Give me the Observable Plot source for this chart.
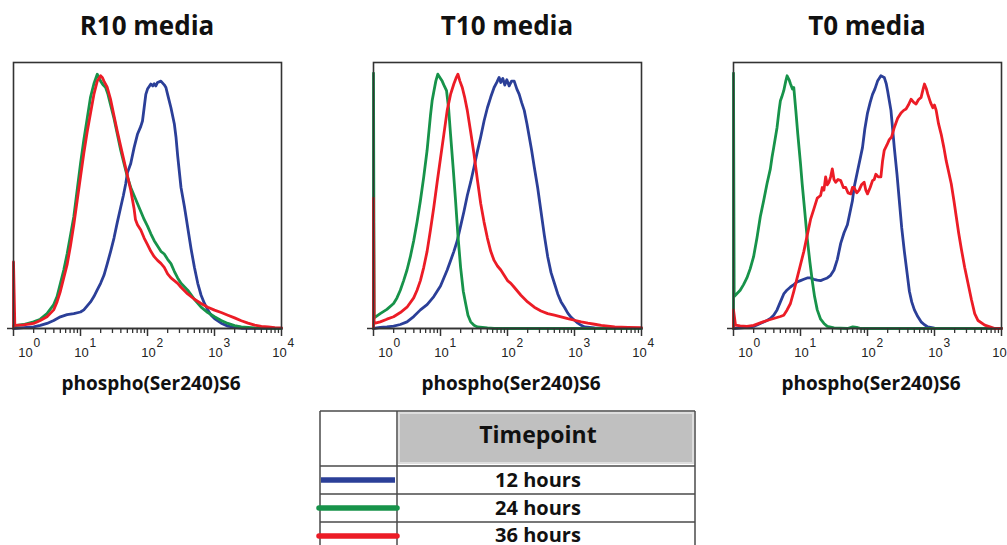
<!DOCTYPE html>
<html>
<head>
<meta charset="utf-8">
<script src="https://cdn.jsdelivr.net/npm/d3@7"></script>
<script src="https://cdn.jsdelivr.net/npm/@observablehq/plot@0.6"></script>
<style>
  html, body { margin: 0; padding: 0; width: 1007px; height: 545px; overflow: hidden; background: #fff; }
  #root { position: relative; width: 1007px; height: 545px; overflow: hidden; }
  .panel { position: absolute; top: 50px; width: 292px; height: 310px; }
  .panel svg { max-width: none !important; }
  #overlay { position: absolute; left: 0; top: 0; }
</style>
</head>
<body>
<div id="root"></div>
<script>
// Flow cytometry histograms of phospho(Ser240)S6, one per culture medium.
// Each curve: [log10 fluorescence, normalized cell count (fraction of panel height)].

const media = ["R10 media", "T10 media", "T0 media"];
const timepoints = ["12 hours", "24 hours", "36 hours"];
const colors = ["#2b3f98", "#17934a", "#ec1c26"];
const axisTitle = "phospho(Ser240)S6";
const majorExps = [0, 1, 2, 3, 4];

// R10 media
const r10_12h = [[0,0],[0.15,0.003],[0.3,0.006],[0.4,0.012],[0.5,0.019],[0.6,0.03],[0.7,0.044],[0.8,0.052],[0.9,0.056],[1.0,0.062],[1.05,0.07],[1.1,0.085],[1.15,0.1],[1.2,0.12],[1.25,0.145],[1.3,0.17],[1.35,0.2],[1.4,0.244],[1.45,0.29],[1.5,0.34],[1.55,0.4],[1.6,0.456],[1.64,0.5],[1.675,0.544],[1.7,0.585],[1.75,0.62],[1.8,0.68],[1.85,0.73],[1.9,0.76],[1.925,0.78],[1.95,0.83],[1.975,0.88],[2.0,0.9],[2.05,0.919],[2.08,0.912],[2.1,0.92],[2.125,0.912],[2.15,0.925],[2.2,0.93],[2.25,0.916],[2.275,0.906],[2.3,0.88],[2.35,0.83],[2.4,0.77],[2.425,0.72],[2.45,0.65],[2.5,0.53],[2.55,0.46],[2.575,0.42],[2.6,0.38],[2.65,0.3],[2.7,0.23],[2.75,0.17],[2.8,0.125],[2.85,0.094],[2.9,0.07],[2.95,0.05],[3.0,0.0375],[3.1,0.02],[3.2,0.009],[3.3,0.004],[3.4,0.001],[4.0,0]];
const r10_24h = [[0,0.01],[0.15,0.015],[0.3,0.025],[0.4,0.035],[0.5,0.056],[0.6,0.09],[0.65,0.12],[0.7,0.17],[0.75,0.22],[0.8,0.28],[0.85,0.35],[0.9,0.42],[0.95,0.52],[1.0,0.62],[1.05,0.71],[1.1,0.79],[1.15,0.87],[1.2,0.92],[1.25,0.956],[1.28,0.94],[1.3,0.93],[1.34,0.915],[1.375,0.906],[1.41,0.88],[1.45,0.84],[1.5,0.79],[1.55,0.73],[1.6,0.67],[1.65,0.62],[1.7,0.57],[1.75,0.53],[1.8,0.5],[1.85,0.47],[1.9,0.44],[1.95,0.41],[2.0,0.385],[2.05,0.356],[2.1,0.33],[2.15,0.31],[2.2,0.29],[2.25,0.28],[2.3,0.26],[2.35,0.244],[2.4,0.215],[2.45,0.19],[2.5,0.17],[2.6,0.144],[2.7,0.11],[2.8,0.08],[2.9,0.06],[3.0,0.044],[3.1,0.03],[3.2,0.019],[3.3,0.011],[3.4,0.006],[3.6,0.002],[4.0,0]];
const r10_36h = [[0,0],[0,0.25],[0.02,0.012],[0.15,0.014],[0.3,0.019],[0.4,0.03],[0.5,0.044],[0.6,0.07],[0.65,0.1],[0.7,0.14],[0.75,0.19],[0.8,0.24],[0.85,0.31],[0.9,0.39],[0.95,0.48],[1.0,0.57],[1.05,0.66],[1.1,0.74],[1.15,0.81],[1.2,0.88],[1.25,0.93],[1.275,0.94],[1.3,0.95],[1.325,0.944],[1.35,0.93],[1.4,0.906],[1.45,0.86],[1.5,0.8],[1.55,0.74],[1.6,0.685],[1.65,0.63],[1.7,0.575],[1.75,0.52],[1.8,0.45],[1.82,0.41],[1.85,0.39],[1.9,0.37],[1.95,0.34],[2.0,0.315],[2.05,0.29],[2.1,0.27],[2.15,0.256],[2.2,0.245],[2.25,0.23],[2.3,0.205],[2.35,0.19],[2.4,0.18],[2.45,0.17],[2.5,0.155],[2.6,0.13],[2.7,0.11],[2.8,0.094],[2.9,0.08],[3.0,0.069],[3.1,0.06],[3.2,0.05],[3.3,0.04],[3.4,0.029],[3.5,0.02],[3.6,0.0125],[3.7,0.008],[3.8,0.006],[3.9,0.003],[4.0,0.002]];

// T10 media
const t10_12h = [[0,0],[0.1,0.004],[0.2,0.006],[0.3,0.009],[0.4,0.015],[0.5,0.025],[0.6,0.045],[0.7,0.07],[0.8,0.09],[0.9,0.12],[0.95,0.14],[1.0,0.16],[1.05,0.19],[1.1,0.22],[1.15,0.255],[1.2,0.29],[1.25,0.33],[1.3,0.385],[1.35,0.44],[1.4,0.5],[1.45,0.55],[1.5,0.606],[1.55,0.665],[1.6,0.72],[1.65,0.78],[1.7,0.83],[1.75,0.87],[1.8,0.906],[1.84,0.925],[1.875,0.944],[1.9,0.925],[1.93,0.94],[1.96,0.915],[1.99,0.935],[2.025,0.912],[2.06,0.93],[2.1,0.93],[2.14,0.9],[2.175,0.88],[2.21,0.85],[2.25,0.82],[2.29,0.77],[2.325,0.72],[2.36,0.67],[2.4,0.606],[2.45,0.53],[2.5,0.44],[2.55,0.35],[2.6,0.27],[2.65,0.21],[2.7,0.17],[2.75,0.13],[2.8,0.1],[2.85,0.08],[2.9,0.058],[2.95,0.042],[3.0,0.031],[3.05,0.02],[3.1,0.012],[3.15,0.006],[3.3,0.002],[3.5,0],[4.0,0]];
const t10_24h = [[0,0],[0,0.96],[0.01,0.04],[0.1,0.056],[0.2,0.072],[0.3,0.094],[0.35,0.115],[0.4,0.144],[0.45,0.18],[0.5,0.22],[0.55,0.27],[0.6,0.33],[0.65,0.4],[0.7,0.48],[0.75,0.57],[0.8,0.67],[0.85,0.8],[0.875,0.856],[0.9,0.89],[0.93,0.93],[0.96,0.956],[1.0,0.94],[1.025,0.93],[1.06,0.91],[1.09,0.894],[1.12,0.83],[1.15,0.73],[1.19,0.6],[1.225,0.48],[1.26,0.35],[1.3,0.23],[1.34,0.14],[1.375,0.094],[1.41,0.05],[1.45,0.025],[1.5,0.012],[1.55,0.006],[1.7,0.002],[1.8,0],[4.0,0]];
const t10_36h = [[0,0],[0,0.49],[0.01,0.019],[0.1,0.025],[0.2,0.035],[0.3,0.044],[0.4,0.06],[0.5,0.08],[0.6,0.115],[0.65,0.144],[0.7,0.18],[0.75,0.23],[0.8,0.29],[0.85,0.37],[0.9,0.456],[0.95,0.55],[1.0,0.64],[1.05,0.73],[1.1,0.82],[1.15,0.88],[1.2,0.92],[1.23,0.94],[1.26,0.956],[1.29,0.93],[1.325,0.906],[1.36,0.87],[1.4,0.82],[1.45,0.74],[1.5,0.656],[1.55,0.56],[1.6,0.47],[1.65,0.4],[1.7,0.34],[1.75,0.29],[1.8,0.256],[1.85,0.235],[1.9,0.22],[1.95,0.2],[2.0,0.18],[2.05,0.17],[2.1,0.155],[2.15,0.14],[2.2,0.125],[2.3,0.1],[2.4,0.08],[2.5,0.066],[2.6,0.056],[2.7,0.05],[2.8,0.044],[2.9,0.037],[3.0,0.031],[3.1,0.025],[3.2,0.02],[3.3,0.016],[3.4,0.012],[3.5,0.009],[3.6,0.006],[3.8,0.004],[4.0,0.003]];

// T0 media
const t0_12h = [[0,0],[0.2,0.004],[0.3,0.008],[0.4,0.019],[0.5,0.03],[0.55,0.0375],[0.6,0.05],[0.65,0.07],[0.7,0.1],[0.75,0.13],[0.8,0.145],[0.85,0.156],[0.9,0.165],[0.95,0.175],[1.0,0.18],[1.05,0.185],[1.1,0.19],[1.15,0.19],[1.2,0.185],[1.25,0.182],[1.3,0.18],[1.35,0.185],[1.4,0.19],[1.45,0.2],[1.5,0.22],[1.55,0.26],[1.6,0.32],[1.65,0.36],[1.7,0.39],[1.75,0.45],[1.775,0.48],[1.8,0.53],[1.85,0.59],[1.9,0.65],[1.925,0.68],[1.96,0.75],[2.0,0.81],[2.04,0.85],[2.075,0.88],[2.11,0.9],[2.15,0.93],[2.2,0.95],[2.25,0.944],[2.28,0.92],[2.3,0.894],[2.35,0.82],[2.4,0.68],[2.44,0.58],[2.475,0.48],[2.51,0.38],[2.55,0.29],[2.59,0.21],[2.625,0.14],[2.66,0.1],[2.7,0.07],[2.75,0.045],[2.8,0.025],[2.85,0.014],[2.9,0.006],[3.0,0.001],[4.0,0]];
const t0_24h = [[0,0],[0,0.96],[0.01,0.12],[0.1,0.144],[0.15,0.165],[0.2,0.19],[0.25,0.225],[0.3,0.27],[0.35,0.34],[0.4,0.42],[0.45,0.48],[0.5,0.544],[0.55,0.6],[0.575,0.644],[0.6,0.68],[0.65,0.756],[0.68,0.82],[0.7,0.856],[0.72,0.87],[0.75,0.894],[0.78,0.93],[0.8,0.95],[0.83,0.935],[0.85,0.92],[0.88,0.9],[0.9,0.906],[0.93,0.82],[0.96,0.73],[1.0,0.62],[1.025,0.544],[1.06,0.45],[1.1,0.34],[1.14,0.25],[1.175,0.18],[1.21,0.12],[1.25,0.07],[1.3,0.035],[1.35,0.019],[1.4,0.008],[1.5,0.002],[1.7,0],[1.78,0.006],[1.84,0.004],[1.9,0],[4.0,0]];
const t0_36h = [[0,0],[0,0.07],[0.03,0.0125],[0.1,0.01],[0.2,0.008],[0.3,0.012],[0.4,0.021],[0.5,0.03],[0.6,0.0375],[0.7,0.045],[0.75,0.05],[0.8,0.07],[0.85,0.094],[0.9,0.14],[0.95,0.19],[1.0,0.24],[1.05,0.29],[1.1,0.35],[1.15,0.41],[1.2,0.45],[1.25,0.49],[1.3,0.5],[1.325,0.53],[1.35,0.52],[1.375,0.57],[1.4,0.54],[1.425,0.55],[1.45,0.57],[1.475,0.6],[1.5,0.56],[1.525,0.55],[1.56,0.56],[1.6,0.556],[1.64,0.53],[1.675,0.53],[1.71,0.51],[1.75,0.506],[1.775,0.53],[1.8,0.53],[1.84,0.51],[1.875,0.52],[1.91,0.54],[1.95,0.55],[1.975,0.52],[2.0,0.506],[2.04,0.53],[2.075,0.556],[2.1,0.56],[2.125,0.58],[2.16,0.57],[2.2,0.57],[2.225,0.63],[2.25,0.67],[2.29,0.69],[2.325,0.71],[2.36,0.72],[2.4,0.756],[2.45,0.79],[2.5,0.81],[2.54,0.82],[2.575,0.825],[2.61,0.84],[2.65,0.862],[2.69,0.85],[2.725,0.844],[2.76,0.86],[2.8,0.869],[2.83,0.9],[2.85,0.919],[2.88,0.9],[2.9,0.881],[2.94,0.85],[2.975,0.83],[3.0,0.84],[3.025,0.82],[3.06,0.77],[3.1,0.73],[3.14,0.68],[3.175,0.63],[3.21,0.59],[3.25,0.544],[3.29,0.48],[3.325,0.42],[3.36,0.36],[3.4,0.3],[3.45,0.23],[3.5,0.17],[3.55,0.11],[3.6,0.056],[3.65,0.03],[3.75,0.0125],[3.85,0.004],[3.9,0],[4.0,0]];

const panelCurves = [
  [r10_12h, r10_24h, r10_36h],
  [t10_12h, t10_24h, t10_36h],
  [t0_12h, t0_24h, t0_36h]
];

// ---- layout ----
const panelLeft = [0, 360, 720];
const W = 292, H = 310, mT = 12, mB = 32, mL = 13, mR = 11;
const axisColor = "#333";
const minorTicks = d3.range(0, 4).flatMap(k => d3.range(2, 10).map(m => m * 10 ** k));
const majorTicks = majorExps.map(e => 10 ** e);

// short downward tick marks hanging from the baseline
function ticks(values, len, width) {
  return Plot.ruleX(values, {y1: 0, y2: 0, insetBottom: -len, stroke: axisColor, strokeWidth: width});
}

function decadeLabels(exps, dx) {
  return [
    Plot.text(exps, {x: e => 10 ** e, text: () => "10", frameAnchor: "bottom", lineAnchor: "bottom",
      dy: 28, dx, textAnchor: "middle", fontSize: 13, fill: "#222"}),
    Plot.text(exps, {x: e => 10 ** e, text: e => String(e), frameAnchor: "bottom", lineAnchor: "bottom",
      dy: 18, dx: dx + 8, textAnchor: "start", fontSize: 12, fill: "#222"})
  ];
}

function panel(curves) {
  return Plot.plot({
    width: W, height: H,
    marginTop: mT, marginBottom: mB, marginLeft: mL, marginRight: mR,
    style: {fontFamily: "'Liberation Sans', Arial, sans-serif", overflow: "visible",
            background: "transparent", maxWidth: "none"},
    x: {type: "log", domain: [1, 1e4], axis: null},
    y: {domain: [0, 1], axis: null},
    marks: [
      curves.map((pts, i) => Plot.line(pts, {
        x: d => 10 ** d[0], y: d => d[1],
        stroke: colors[i], strokeWidth: 2.8, strokeLinejoin: "round"
      })),
      Plot.frame({stroke: axisColor, strokeWidth: 1.6}),
      Plot.ruleY([0], {insetLeft: -6, stroke: axisColor, strokeWidth: 1.6}),
      ticks(majorTicks, 8, 1.5),
      ticks(minorTicks, 5, 1.3),
      decadeLabels([0], 12),
      decadeLabels([1, 2, 3], 1),
      decadeLabels([4], -2)
    ]
  });
}

const root = document.getElementById("root");
panelCurves.forEach((curves, p) => {
  const div = document.createElement("div");
  div.className = "panel";
  div.style.left = panelLeft[p] + "px";
  const chart = panel(curves);
  chart.style.width = W + "px";
  chart.style.height = H + "px";
  div.appendChild(chart);
  root.appendChild(div);
});

// ---- titles, axis titles and the timepoint table ----
const svg = d3.select(root).append("svg")
  .attr("id", "overlay").attr("width", 1007).attr("height", 545);

const frameCenter = p => panelLeft[p] + (mL + W - mR) / 2;

svg.selectAll("text.title").data(media).join("text")
  .attr("class", "title")
  .attr("x", (d, p) => frameCenter(p))
  .attr("y", 35)
  .attr("text-anchor", "middle")
  .attr("font-family", "'Open Sans', sans-serif")
  .attr("font-weight", 700)
  .attr("font-size", 26)
  .attr("fill", "#111")
  .text(d => d);

svg.selectAll("text.xtitle").data(media).join("text")
  .attr("class", "xtitle")
  .attr("x", (d, p) => frameCenter(p) + 4)
  .attr("y", 390)
  .attr("text-anchor", "middle")
  .attr("font-family", "'Open Sans', sans-serif")
  .attr("font-weight", 700)
  .attr("font-size", 19)
  .attr("fill", "#111")
  .text(axisTitle);

// table
const tbl = {left: 320, right: 695, top: 411, split: 397, headBottom: 466, rowH: 28};
const lineColor = "#4a4a4a";
const g = svg.append("g");
g.append("rect")
  .attr("x", tbl.split + 2).attr("y", tbl.top + 2)
  .attr("width", tbl.right - tbl.split - 4).attr("height", tbl.headBottom - tbl.top - 5)
  .attr("fill", "#c0c0c0").attr("stroke", "#dedede").attr("stroke-width", 2);
g.append("text")
  .attr("x", 538).attr("y", 443)
  .attr("text-anchor", "middle")
  .attr("font-family", "'Open Sans', sans-serif").attr("font-weight", 700).attr("font-size", 23)
  .attr("fill", "#111").text("Timepoint");

// outer lines
g.append("line").attr("x1", tbl.left).attr("x2", tbl.right).attr("y1", tbl.top).attr("y2", tbl.top);
g.append("line").attr("x1", tbl.left).attr("x2", tbl.left).attr("y1", tbl.top).attr("y2", 560);
g.append("line").attr("x1", tbl.right).attr("x2", tbl.right).attr("y1", tbl.top).attr("y2", 560);
g.append("line").attr("x1", tbl.split).attr("x2", tbl.split).attr("y1", tbl.top).attr("y2", 560);
timepoints.forEach((t, i) => {
  const y0 = tbl.headBottom + i * tbl.rowH;
  g.append("line").attr("x1", tbl.left).attr("x2", tbl.right).attr("y1", y0).attr("y2", y0);
});
g.selectAll("line").attr("stroke", lineColor).attr("stroke-width", 1.5);

timepoints.forEach((t, i) => {
  const yc = tbl.headBottom + i * tbl.rowH + 14;
  g.append("line")
    .attr("x1", i === 0 ? tbl.left + 1 : tbl.left - 1).attr("x2", i === 0 ? tbl.split - 2 : tbl.split)
    .attr("y1", yc).attr("y2", yc)
    .attr("stroke", colors[i]).attr("stroke-width", 5.5)
    .attr("stroke-linecap", i === 0 ? "butt" : "round");
  g.append("text")
    .attr("x", 538).attr("y", yc + 7 - (i === 2 ? 1 : 0))
    .attr("text-anchor", "middle")
    .attr("font-family", "'Open Sans', sans-serif").attr("font-weight", 700).attr("font-size", 20)
    .attr("fill", "#111").text(t);
});
</script>
</body>
</html>
